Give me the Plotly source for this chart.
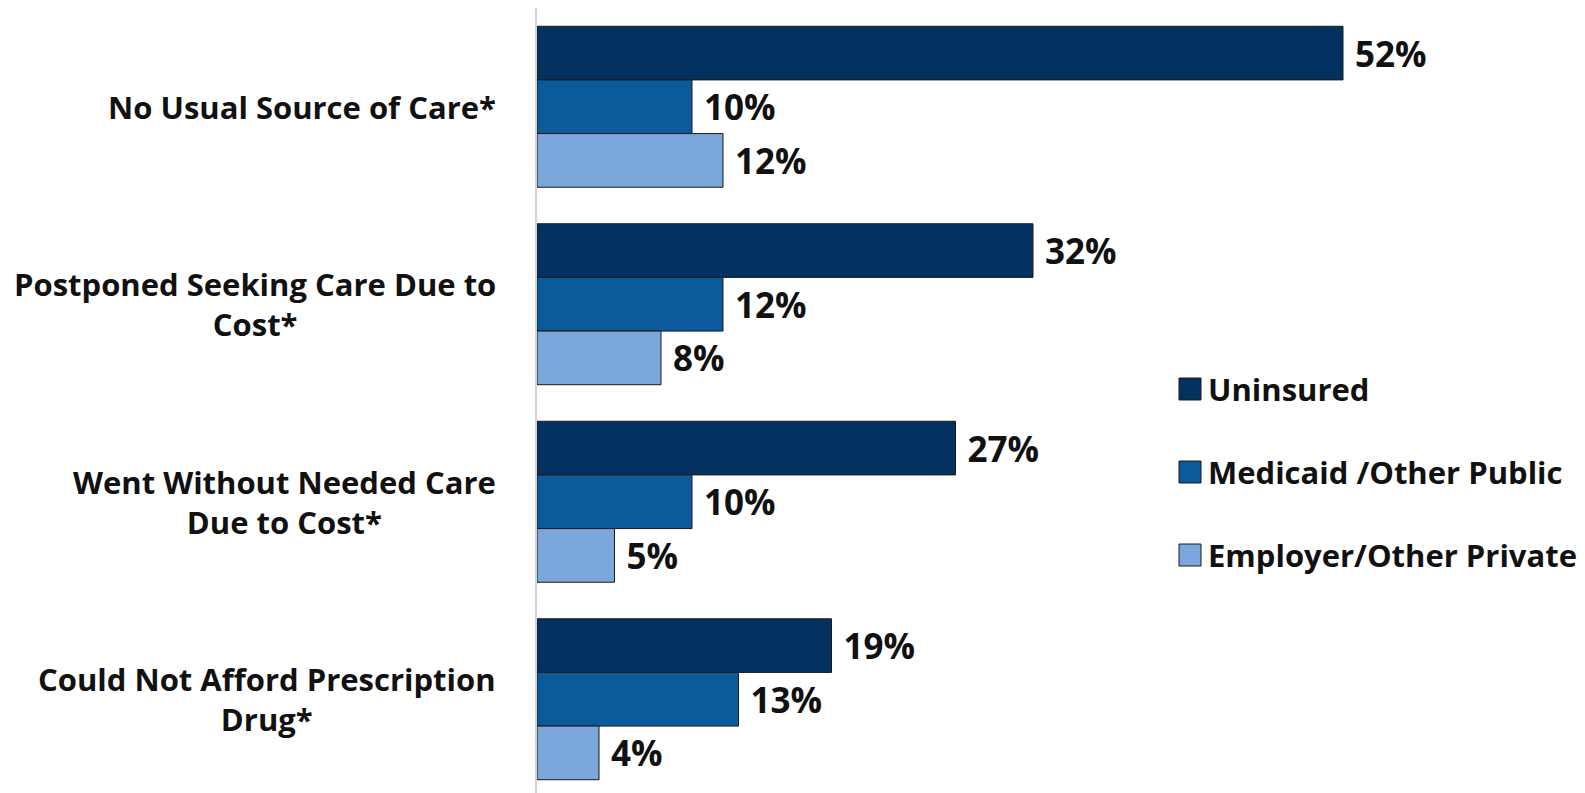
import plotly.graph_objects as go

categories = [
    "No Usual Source of Care*",
    "Postponed Seeking Care Due to<br>Cost*",
    "Went Without Needed Care<br>Due to Cost*",
    "Could Not Afford Prescription<br>Drug*",
]
series_names = ["Uninsured", "Medicaid /Other Public", "Employer/Other Private"]
uninsured = [52, 32, 27, 19]
medicaid = [10, 12, 10, 13]
employer = [12, 8, 5, 4]
colors = ["#033260", "#0b5a9c", "#7ba7dc"]

OFF = 8  # page body margin
W, H = 1585 - OFF, 793 - OFF
L, T, R, B = 537 - OFF, 8 - OFF, 0, 0
PW, PH = W - L - R, H - T - B
FONT = "'Open Sans', Lato, sans-serif"

fig = go.Figure()
for name, vals, col in zip(series_names, [uninsured, medicaid, employer], colors):
    fig.add_trace(go.Bar(
        y=categories, x=vals, orientation="h", name=name,
        marker=dict(color=col, line=dict(color="#1a1a1a", width=1)),
        text=[f"\u00a0{v}%" for v in vals], textposition="outside",
        textfont=dict(family=FONT, size=35, color="#111111", weight="bold"),
        constraintext="none", cliponaxis=False, showlegend=False,
        hoverinfo="skip",
    ))

annotations = []
for c in categories:
    annotations.append(dict(
        xref="paper", yref="y", x=0, y=c, xshift=-39, xanchor="right",
        yanchor="middle", align="center", showarrow=False, text=c,
        font=dict(family=FONT, size=31, color="#111111", weight="bold"),
    ))

def px_x(p):
    return (p - OFF - L) / PW

def px_y(p):
    return 1 - (p - OFF - T) / PH

shapes = []
leg_y = [389, 472, 555]
for name, col, yc in zip(series_names, colors, leg_y):
    shapes.append(dict(type="rect", xref="paper", yref="paper",
                       x0=px_x(1179), x1=px_x(1201), y0=px_y(yc + 11), y1=px_y(yc - 11),
                       fillcolor=col, line=dict(color="#1a1a1a", width=1)))
    annotations.append(dict(xref="paper", yref="paper", x=px_x(1206), y=px_y(yc),
                            xanchor="left", yanchor="middle", showarrow=False, text=name,
                            font=dict(family=FONT, size=31, color="#111111", weight="bold")))

fig.update_layout(
    width=W, height=H,
    margin=dict(l=L, r=R, t=T, b=B, pad=0),
    paper_bgcolor="white", plot_bgcolor="white",
    barmode="group", bargap=0.185, bargroupgap=0,
    xaxis=dict(range=[0, PW / 15.5], visible=False, fixedrange=True),
    yaxis=dict(type="category", range=[PH / 197.5 - 0.5, -0.5], showticklabels=False,
               showline=True, linecolor="#d4d4d4", linewidth=2, ticks="",
               showgrid=False, zeroline=False, fixedrange=True),
    showlegend=False,
    annotations=annotations, shapes=shapes,
)

fig.write_html("out.html")
